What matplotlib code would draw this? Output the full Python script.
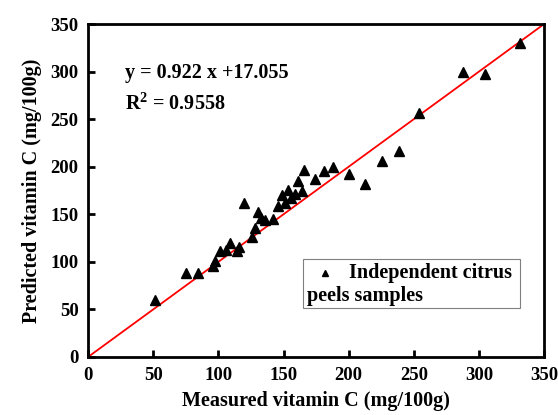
import matplotlib.pyplot as plt
from matplotlib.patches import Rectangle

# measured vs predicted vitamin C (mg/100g)
measured = [51, 75, 84, 96, 97.5, 101, 106, 109, 114, 116, 120, 126, 128, 130.5,
            133, 136, 142, 146, 149, 151, 153.5, 156, 159, 161, 164.5, 166, 174,
            181, 188, 200, 212.6, 225.6, 238.7, 254, 288, 304.7, 331.5]
predicted = [60, 88, 88, 96, 101, 111, 112, 120, 111, 116, 162, 126, 136, 152,
             146, 144, 145, 159, 170, 162, 175, 167, 171, 185, 174, 197, 187,
             195, 200, 192, 182, 206, 217, 256, 300, 298, 330]
ref_line = [0, 350]
ticks = [0, 50, 100, 150, 200, 250, 300, 350]

plt.rcParams['font.family'] = ['Liberation Serif', 'DejaVu Serif']
plt.rcParams['font.weight'] = 'bold'
plt.rcParams['mathtext.fontset'] = 'custom'
plt.rcParams['mathtext.bf'] = 'Liberation Serif:bold'

fig = plt.figure(figsize=(5.58, 4.15), dpi=100)
ax = fig.add_axes([0.158, 0.140, 0.817, 0.802])

ax.plot(ref_line, ref_line, color='red', linewidth=1.3, zorder=2)
ax.plot(measured, predicted, linestyle='none', marker='^', color='black',
        markersize=7, zorder=3)

ax.set_xlim(0, 350)
ax.set_ylim(0, 350)
ax.set_xticks(ticks)
ax.set_yticks(ticks)
ax.tick_params(direction='in', length=5, width=2, labelsize=13.5, pad=7)
for lab in ax.get_xticklabels() + ax.get_yticklabels():
    lab.set_fontweight('bold')
for sp in ax.spines.values():
    sp.set_linewidth(2)

ax.set_xlabel("Measured vitamin C (mg/100g)", fontsize=14.5, fontweight='bold', labelpad=5)
ax.set_ylabel("Predicted vitamin C (mg/100g)", fontsize=14.5, fontweight='bold', labelpad=6)

ax.text(28, 299, "y = 0.922 x +17.055", fontsize=14.5, fontweight='bold', va='center')
ax.text(28, 266, r"R$^\mathbf{2}$ = 0.9558", fontsize=14.5, fontweight='bold', va='center')

# legend box, drawn by hand so the second line wraps back to the left edge
ax.add_patch(Rectangle((0.471, 0.148), 0.476, 0.147, transform=ax.transAxes,
                       facecolor='white', edgecolor='gray', linewidth=0.8, zorder=4))
ax.plot([0.52], [0.253], transform=ax.transAxes, linestyle='none', marker='^',
        color='black', markersize=5, zorder=5, clip_on=False)
ax.text(0.572, 0.253, "Independent citrus", transform=ax.transAxes, fontsize=14.5,
        fontweight='bold', va='center', zorder=5)
ax.text(0.480, 0.183, "peels samples", transform=ax.transAxes, fontsize=14.5,
        fontweight='bold', va='center', zorder=5)

plt.savefig("out.png", dpi=100)
